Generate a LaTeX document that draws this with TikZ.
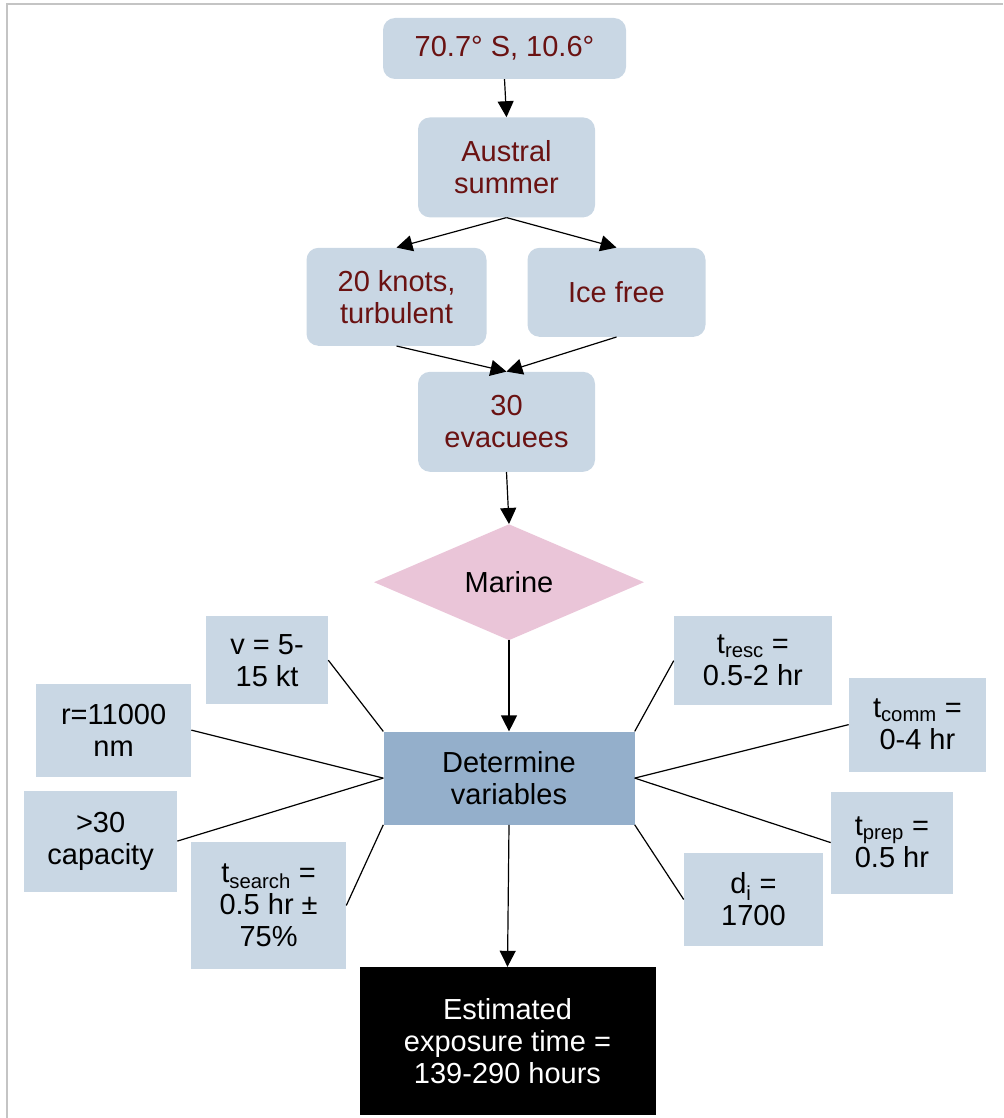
\documentclass[tikz,border=0pt]{standalone}
\usepackage{fontspec}
\setmainfont{Liberation Sans}
\usepackage{tikz}
\usetikzlibrary{positioning}
\usetikzlibrary{shapes.geometric}
\usetikzlibrary{arrows.meta}

\definecolor{boxblue}{HTML}{C9D7E4}
\definecolor{detblue}{HTML}{94AFCB}
\definecolor{marinepink}{HTML}{EAC5D8}
\definecolor{darkred}{HTML}{6A1212}
\definecolor{framegray}{HTML}{C4C4C4}

\begin{document}
\begin{tikzpicture}[x=1pt, y=-1pt,
basenode/.style={inner sep=2pt, align=center, font=\fontsize{29}{32}\selectfont},
roundnode/.style={basenode, rectangle, rounded corners=12pt, fill=boxblue, text=darkred},
varnode/.style={basenode, rectangle, fill=boxblue, text=black},
detnode/.style={basenode, rectangle, fill=detblue, text=black},
marinenode/.style={basenode, diamond, fill=marinepink, text=black, inner sep=0pt},
endnode/.style={basenode, rectangle, fill=black, text=white},
arrowline/.style={-{Triangle[length=16pt, width=16pt]}, line width=1.2pt},
spoke/.style={line width=1.2pt},
]
\useasboundingbox (0,0) rectangle (1003,1118);
\draw[framegray, line width=2pt] (7,1118) -- (7,4) -- (1003,4);

%Nodes
\node[roundnode, minimum width=243pt, minimum height=61pt]   (loc)    at (504.5,48.5)                  {70.7° S, 10.6°};
\node[roundnode, minimum width=177pt, minimum height=100pt]  (summer)  [below=38pt of loc, xshift=2pt] {Austral\\summer};
\node[roundnode, minimum width=180pt, minimum height=98pt]   (knots)   [below=30pt of summer, xshift=-110pt] {20 knots,\\turbulent};
\node[roundnode, minimum width=178pt, minimum height=89pt]   (ice)     [below=30pt of summer, xshift=110pt]  {Ice free};
\node[roundnode, minimum width=177pt, minimum height=100pt]  (evac)    [below=154pt of summer]        {30\\evacuees};
\node[marinenode, minimum width=270pt, minimum height=116pt] (marine)  [below=52pt of evac, xshift=2.5pt] {Marine};
\node[detnode, minimum width=251pt, minimum height=93pt]     (det)     [below=91pt of marine]         {Determine\\variables};
\node[endnode, minimum width=296pt, minimum height=148pt]    (est)     [below=142pt of det, xshift=-1.5pt] {Estimated\\exposure time =\\139-290 hours};

\node[varnode, minimum width=122pt, minimum height=88pt]     (speed)   [above left=27pt and 55pt of det]  {v = 5-\\15 kt};
\node[varnode, minimum width=155pt, minimum height=93pt]     (range)   [left=192pt of det, yshift=48pt]   {r=11000\\nm};
\node[varnode, minimum width=153pt, minimum height=101pt]    (cap)     [left=206pt of det, yshift=-63pt]  {>30\\capacity};
\node[varnode, minimum width=155pt, minimum height=127pt]    (search)  [below left=17pt and 37pt of det]  {t\textsubscript{search} =\\0.5 hr ±\\75\%};
\node[varnode, minimum width=158pt, minimum height=89pt]     (resc)    [above right=26pt and 39pt of det] {t\textsubscript{resc} =\\0.5-2 hr};
\node[varnode, minimum width=137pt, minimum height=94pt]     (comm)    [right=214pt of det, yshift=53.5pt] {t\textsubscript{comm} =\\0-4 hr};
\node[varnode, minimum width=122pt, minimum height=102pt]    (prep)    [right=196pt of det, yshift=-64.5pt] {t\textsubscript{prep} =\\0.5 hr};
\node[varnode, minimum width=139pt, minimum height=93pt]     (dist)    [below right=28pt and 49pt of det] {d\textsubscript{i} =\\1700};

%Lines
\draw[arrowline] (loc.south) -- (summer.north);
\draw[arrowline] (summer.south) -- (knots.north);
\draw[arrowline] (summer.south) -- (ice.north);
\draw[arrowline] (knots.south) -- (evac.north);
\draw[arrowline] (ice.south) -- (evac.north);
\draw[arrowline] (evac.south) -- (marine.north);
\draw[arrowline] (marine.south) -- (det.north);
\draw[arrowline] (det.south) -- (est.north);
\draw[spoke] (speed.east) -- (det.north west);
\draw[spoke] (range.east) -- (det.west);
\draw[spoke] (cap.east) -- (det.west);
\draw[spoke] (search.east) -- (det.south west);
\draw[spoke] (resc.west) -- (det.north east);
\draw[spoke] (comm.west) -- (det.east);
\draw[spoke] (prep.west) -- (det.east);
\draw[spoke] (dist.west) -- (det.south east);
\end{tikzpicture}
\end{document}
